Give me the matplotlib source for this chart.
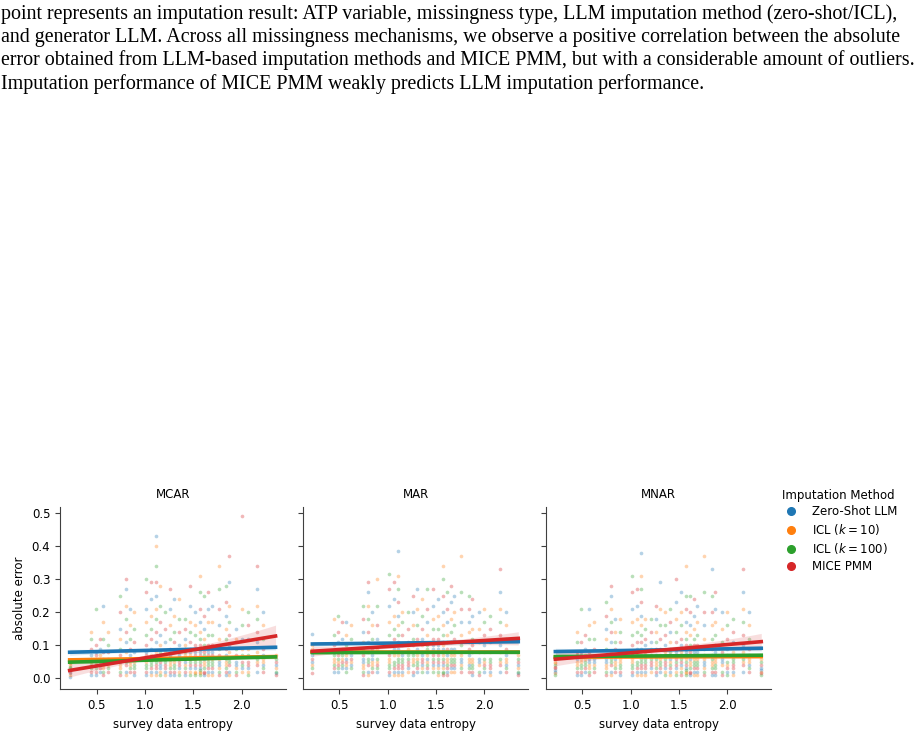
import numpy as np
import matplotlib
matplotlib.use("Agg")
import matplotlib.pyplot as plt
from matplotlib.lines import Line2D

W, H = 923, 734

caption_lines = [
    "point represents an imputation result: ATP variable, missingness type, LLM imputation method (zero-shot/ICL),",
    "and generator LLM. Across all missingness mechanisms, we observe a positive correlation between the absolute",
    "error obtained from LLM-based imputation methods and MICE PMM, but with a considerable amount of outliers.",
    "Imputation performance of MICE PMM weakly predicts LLM imputation performance.",
]

panels = ["MCAR", "MAR", "MNAR"]
methods = ["Zero-Shot LLM", "ICL ($k=10$)", "ICL ($k=100$)", "MICE PMM"]
colors = ["#1f77b4", "#ff7f0e", "#2ca02c", "#d62728"]

# entropy of each ATP variable (x columns of the scatter)
entropy = [0.22, 0.44, 0.49, 0.53, 0.57, 0.62, 0.74, 0.80, 0.84, 0.89,
           1.01, 1.06, 1.11, 1.15, 1.21, 1.26, 1.30, 1.35, 1.41, 1.47,
           1.52, 1.57, 1.61, 1.65, 1.69, 1.76, 1.84, 1.87, 1.94, 2.00,
           2.06, 2.16, 2.22, 2.35]

# absolute errors per variable (one string per entropy column)
mcar_errors = [
    "0.05 0.04 0.03 0.02 0.015 0.01 0.035 0.025 0.005 0.045",
    "0.14 0.12 0.09 0.07 0.05 0.03 0.02 0.01 0.06 0.04",
    "0.21 0.10 0.08 0.06 0.04 0.02 0.01 0.05 0.03 0.07",
    "0.12 0.09 0.07 0.05 0.03 0.02 0.06 0.04",
    "0.22 0.17 0.12 0.08 0.06 0.04 0.02 0.01 0.05 0.03",
    "0.14 0.10 0.08 0.06 0.04 0.03 0.02 0.05",
    "0.25 0.20 0.15 0.12 0.09 0.07 0.05 0.03 0.02 0.01 0.06 0.04",
    "0.30 0.27 0.22 0.18 0.14 0.11 0.08 0.06 0.04 0.02 0.01 0.05",
    "0.21 0.16 0.12 0.09 0.07 0.05 0.03 0.02 0.06 0.04",
    "0.20 0.15 0.11 0.08 0.06 0.04 0.02 0.01 0.05 0.03",
    "0.30 0.26 0.21 0.17 0.13 0.10 0.08 0.06 0.04 0.02 0.01 0.05 0.03 0.07",
    "0.29 0.24 0.19 0.15 0.12 0.09 0.07 0.05 0.03 0.02 0.01 0.04",
    "0.43 0.40 0.34 0.29 0.25 0.21 0.18 0.14 0.11 0.08 0.06 0.04 0.02 0.01 0.05 0.03",
    "0.28 0.22 0.17 0.13 0.10 0.08 0.06 0.04 0.02 0.01 0.05 0.03",
    "0.20 0.15 0.11 0.08 0.06 0.04 0.02 0.01 0.05 0.03",
    "0.27 0.21 0.16 0.12 0.09 0.07 0.05 0.03 0.02 0.01 0.04 0.06",
    "0.24 0.19 0.14 0.11 0.08 0.06 0.04 0.02 0.01 0.05 0.03",
    "0.24 0.18 0.14 0.10 0.08 0.06 0.04 0.03 0.02 0.01 0.05 0.07",
    "0.18 0.15 0.12 0.10 0.08 0.06 0.05 0.04 0.03 0.02 0.01 0.07 0.09",
    "0.28 0.22 0.17 0.14 0.11 0.09 0.07 0.05 0.04 0.03 0.02 0.01 0.06 0.08",
    "0.20 0.16 0.13 0.10 0.08 0.06 0.05 0.04 0.03 0.02 0.01 0.07 0.09 0.015",
    "0.31 0.26 0.21 0.17 0.14 0.12 0.10 0.08 0.06 0.05 0.04 0.03 0.02 0.01 0.07 0.09 0.015 0.025",
    "0.25 0.19 0.15 0.12 0.10 0.08 0.06 0.04 0.03 0.02 0.01 0.05 0.07 0.015",
    "0.26 0.21 0.17 0.13 0.10 0.08 0.06 0.04 0.03 0.02 0.01 0.05 0.07",
    "0.22 0.17 0.13 0.10 0.08 0.06 0.04 0.03 0.02 0.01 0.05 0.07",
    "0.34 0.27 0.21 0.16 0.12 0.09 0.07 0.05 0.03 0.02 0.01 0.04 0.06",
    "0.28 0.23 0.19 0.15 0.12 0.09 0.07 0.05 0.03 0.02 0.01 0.04 0.06",
    "0.37 0.29 0.22 0.17 0.13 0.10 0.08 0.06 0.04 0.02 0.01 0.05",
    "0.15 0.12 0.09 0.07 0.05 0.03 0.02 0.01 0.04",
    "0.21 0.16 0.49 0.12 0.09 0.07 0.05 0.03 0.02 0.04",
    "0.20 0.16 0.12 0.09 0.07 0.05 0.03 0.02 0.01 0.04",
    "0.34 0.27 0.22 0.18 0.14 0.11 0.08 0.06 0.04 0.02 0.05",
    "0.20 0.16 0.12 0.09 0.07 0.05 0.03 0.02 0.04 0.06",
    "0.07 0.06 0.05 0.04 0.03 0.02 0.01 0.015",
]

mar_errors = [
    "0.135 0.10 0.08 0.06 0.05 0.04 0.03 0.015 0.07 0.09",
    "0.18 0.13 0.10 0.08 0.06 0.04 0.03 0.02 0.05 0.07",
    "0.19 0.14 0.11 0.08 0.06 0.04 0.02 0.05 0.03 0.07",
    "0.17 0.12 0.09 0.07 0.05 0.03 0.06 0.04",
    "0.17 0.13 0.10 0.08 0.06 0.04 0.02 0.05 0.03 0.07",
    "0.16 0.12 0.09 0.07 0.05 0.03 0.06 0.04",
    "0.22 0.18 0.14 0.11 0.09 0.07 0.05 0.03 0.02 0.01 0.06 0.04",
    "0.29 0.26 0.22 0.18 0.14 0.11 0.08 0.06 0.04 0.02 0.01 0.05",
    "0.20 0.16 0.12 0.09 0.07 0.05 0.03 0.02 0.06 0.04",
    "0.30 0.22 0.16 0.12 0.09 0.06 0.04 0.02 0.05 0.03",
    "0.315 0.27 0.22 0.17 0.13 0.10 0.08 0.06 0.04 0.02 0.01 0.05 0.03 0.07",
    "0.29 0.24 0.19 0.15 0.12 0.09 0.07 0.05 0.03 0.02 0.01 0.04",
    "0.385 0.31 0.27 0.23 0.19 0.16 0.13 0.11 0.09 0.07 0.05 0.04 0.02 0.01 0.06 0.03",
    "0.20 0.17 0.13 0.10 0.08 0.06 0.04 0.02 0.01 0.05 0.03 0.07",
    "0.20 0.15 0.11 0.09 0.07 0.05 0.03 0.02 0.06 0.04",
    "0.25 0.20 0.16 0.12 0.10 0.08 0.06 0.04 0.02 0.01 0.05 0.07",
    "0.27 0.21 0.16 0.12 0.09 0.07 0.05 0.03 0.02 0.06 0.04",
    "0.24 0.19 0.15 0.12 0.10 0.08 0.06 0.04 0.03 0.02 0.05 0.07",
    "0.27 0.21 0.17 0.13 0.10 0.08 0.06 0.05 0.04 0.03 0.02 0.07 0.09",
    "0.27 0.22 0.18 0.15 0.12 0.10 0.08 0.06 0.05 0.04 0.03 0.02 0.07 0.09",
    "0.24 0.19 0.15 0.12 0.10 0.08 0.06 0.05 0.04 0.03 0.02 0.07 0.09 0.01",
    "0.34 0.30 0.25 0.20 0.16 0.13 0.11 0.09 0.07 0.06 0.05 0.04 0.03 0.02 0.01 0.08 0.10 0.015",
    "0.26 0.21 0.17 0.13 0.11 0.09 0.07 0.05 0.04 0.03 0.02 0.06 0.08 0.01",
    "0.28 0.23 0.18 0.14 0.11 0.09 0.07 0.05 0.04 0.03 0.02 0.06 0.08",
    "0.25 0.20 0.16 0.12 0.09 0.07 0.05 0.04 0.03 0.02 0.06 0.08",
    "0.37 0.26 0.21 0.17 0.13 0.10 0.08 0.06 0.04 0.03 0.02 0.05 0.07",
    "0.25 0.21 0.17 0.14 0.11 0.09 0.07 0.05 0.03 0.02 0.04 0.06 0.08",
    "0.24 0.19 0.15 0.12 0.10 0.08 0.06 0.04 0.02 0.01 0.05 0.03",
    "0.20 0.15 0.11 0.08 0.06 0.04 0.02 0.01 0.05",
    "0.21 0.17 0.13 0.10 0.08 0.06 0.04 0.02 0.05 0.03",
    "0.19 0.15 0.11 0.08 0.06 0.04 0.02 0.01 0.05 0.03",
    "0.33 0.26 0.21 0.17 0.13 0.10 0.08 0.06 0.04 0.02 0.05",
    "0.20 0.16 0.12 0.09 0.07 0.05 0.03 0.02 0.04 0.06",
    "0.07 0.06 0.05 0.04 0.03 0.02 0.01 0.015",
]

mnar_errors = [
    "0.06 0.05 0.04 0.03 0.02 0.015 0.01 0.035 0.025 0.045",
    "0.14 0.11 0.08 0.06 0.05 0.03 0.02 0.01 0.04 0.07",
    "0.21 0.11 0.08 0.06 0.04 0.02 0.01 0.05 0.03 0.07",
    "0.13 0.09 0.07 0.05 0.03 0.02 0.06 0.04",
    "0.21 0.16 0.12 0.08 0.06 0.04 0.02 0.01 0.05 0.03",
    "0.17 0.12 0.09 0.06 0.04 0.03 0.02 0.05",
    "0.23 0.19 0.15 0.12 0.09 0.07 0.05 0.03 0.02 0.01 0.06 0.04",
    "0.28 0.25 0.21 0.17 0.14 0.11 0.08 0.06 0.04 0.02 0.01 0.05",
    "0.18 0.14 0.11 0.09 0.07 0.05 0.03 0.02 0.06 0.04",
    "0.18 0.14 0.11 0.08 0.06 0.04 0.02 0.01 0.05 0.03",
    "0.31 0.26 0.21 0.17 0.13 0.10 0.08 0.06 0.04 0.02 0.01 0.05 0.03 0.07",
    "0.27 0.22 0.18 0.14 0.11 0.09 0.07 0.05 0.03 0.02 0.01 0.04",
    "0.38 0.31 0.27 0.23 0.19 0.16 0.13 0.11 0.09 0.07 0.05 0.04 0.02 0.01 0.06 0.03",
    "0.18 0.15 0.12 0.10 0.08 0.06 0.04 0.02 0.01 0.05 0.03 0.07",
    "0.18 0.14 0.11 0.09 0.07 0.05 0.03 0.02 0.06 0.04",
    "0.22 0.18 0.14 0.11 0.09 0.07 0.05 0.03 0.02 0.01 0.04 0.06",
    "0.29 0.21 0.16 0.12 0.09 0.07 0.05 0.03 0.02 0.06 0.04",
    "0.20 0.16 0.13 0.10 0.08 0.06 0.04 0.03 0.02 0.01 0.05 0.07",
    "0.21 0.17 0.14 0.11 0.09 0.07 0.06 0.05 0.04 0.03 0.02 0.01 0.08",
    "0.30 0.23 0.18 0.14 0.11 0.09 0.07 0.05 0.04 0.03 0.02 0.01 0.06 0.08",
    "0.26 0.20 0.16 0.12 0.10 0.08 0.06 0.05 0.04 0.03 0.02 0.01 0.07 0.09",
    "0.34 0.25 0.21 0.17 0.14 0.12 0.10 0.08 0.06 0.05 0.04 0.03 0.02 0.01 0.07 0.09 0.015 0.025",
    "0.25 0.20 0.16 0.13 0.10 0.08 0.06 0.04 0.03 0.02 0.01 0.05 0.07 0.015",
    "0.24 0.19 0.15 0.12 0.10 0.08 0.06 0.04 0.03 0.02 0.01 0.05 0.07",
    "0.22 0.17 0.13 0.10 0.08 0.06 0.04 0.03 0.02 0.01 0.05 0.07",
    "0.37 0.26 0.20 0.16 0.12 0.09 0.07 0.05 0.03 0.02 0.01 0.04 0.06",
    "0.25 0.20 0.33 0.16 0.12 0.09 0.07 0.05 0.03 0.02 0.01 0.04 0.06",
    "0.26 0.21 0.17 0.13 0.10 0.08 0.06 0.04 0.02 0.01 0.05 0.03",
    "0.20 0.15 0.11 0.08 0.06 0.04 0.02 0.01 0.05",
    "0.20 0.16 0.12 0.09 0.07 0.05 0.03 0.02 0.04 0.01",
    "0.18 0.14 0.11 0.08 0.06 0.04 0.02 0.01 0.05 0.03",
    "0.33 0.26 0.21 0.17 0.13 0.10 0.08 0.06 0.04 0.02 0.05",
    "0.20 0.16 0.12 0.09 0.07 0.05 0.03 0.02 0.04 0.06",
    "0.06 0.05 0.04 0.03 0.02 0.01 0.015 0.025",
]

errors = {"MCAR": mcar_errors, "MAR": mar_errors, "MNAR": mnar_errors}

# regression fits: value at x=0.22 and x=2.35, per method
fit_x = [0.22, 2.35]
fit_start = {"MCAR": [0.079, 0.056, 0.049, 0.024],
             "MAR": [0.104, 0.080, 0.078, 0.082],
             "MNAR": [0.081, 0.064, 0.066, 0.058]}
fit_end = {"MCAR": [0.094, 0.066, 0.065, 0.128],
           "MAR": [0.111, 0.080, 0.079, 0.121],
           "MNAR": [0.091, 0.066, 0.070, 0.111]}
# 95% CI half width at left end, middle (x=1.4) and right end
ci_half = {"MCAR": [[0.009, 0.004, 0.008], [0.006, 0.003, 0.006], [0.006, 0.003, 0.006], [0.020, 0.008, 0.033]],
           "MAR": [[0.007, 0.003, 0.006], [0.006, 0.003, 0.006], [0.006, 0.003, 0.006], [0.015, 0.006, 0.020]],
           "MNAR": [[0.010, 0.004, 0.008], [0.006, 0.003, 0.006], [0.006, 0.003, 0.006], [0.020, 0.008, 0.025]]}

plt.rcParams["font.family"] = ["DejaVu Sans"]
fig = plt.figure(figsize=(W / 100, H / 100), dpi=100)

# caption text from the paper page above the figure
baselines = [18.5, 42, 65.5, 89]
for i, line in enumerate(caption_lines):
    fig.text(1 / W, 1 - baselines[i] / H, line, fontsize=14.4,
             family=["Liberation Serif", "DejaVu Serif"], va="baseline", ha="left")

lefts = [60, 302.7, 545.7]
xs = np.linspace(fit_x[0], fit_x[1], 60)
for p, name in enumerate(panels):
    ax = fig.add_axes([lefts[p] / W, 1 - 689.3 / H, 225.7 / W, 182.6 / H])
    cols = errors[name]
    for m in range(4):
        px, py = [], []
        for c, s in enumerate(cols):
            vals = [float(v) for v in s.split()]
            for j, v in enumerate(vals):
                if (j + c) % 4 == m:
                    px.append(entropy[c])
                    py.append(v)
        ax.scatter(px, py, s=7, color=colors[m], alpha=0.33, linewidths=0)
        yfit = np.interp(xs, fit_x, [fit_start[name][m], fit_end[name][m]])
        hw = np.polyval(np.polyfit([fit_x[0], 1.4, fit_x[1]], ci_half[name][m], 2), xs)
        ax.fill_between(xs, yfit - hw, yfit + hw, color=colors[m], alpha=0.15, linewidth=0)
        ax.plot(xs, yfit, color=colors[m], lw=2.6)
    ax.set_xlim(0.12, 2.455)
    ax.set_ylim(-0.033, 0.519)
    ax.set_xticks([0.5, 1.0, 1.5, 2.0])
    ax.set_yticks([0.0, 0.1, 0.2, 0.3, 0.4, 0.5])
    ax.spines["top"].set_visible(False)
    ax.spines["right"].set_visible(False)
    for sp in ["left", "bottom"]:
        ax.spines[sp].set_color("0.25")
    ax.tick_params(labelsize=8.5, length=3.5, width=0.8, color="0.25")
    if p > 0:
        ax.tick_params(labelleft=False)
    else:
        ax.set_ylabel("absolute error", fontsize=8.5)
    ax.set_xlabel("survey data entropy", fontsize=8.5)
    ax.set_title(name, fontsize=8.5)

handles = [Line2D([], [], marker="o", ls="", color=c, markersize=5.5) for c in colors]
fig.legend(handles, methods, title="Imputation Method", loc="upper left",
           bbox_to_anchor=(768.5 / W, 1 - 478 / H), frameon=False, fontsize=8.5,
           title_fontsize=8.5, handletextpad=0.8, labelspacing=0.32)

fig.savefig("out.png", dpi=100)
